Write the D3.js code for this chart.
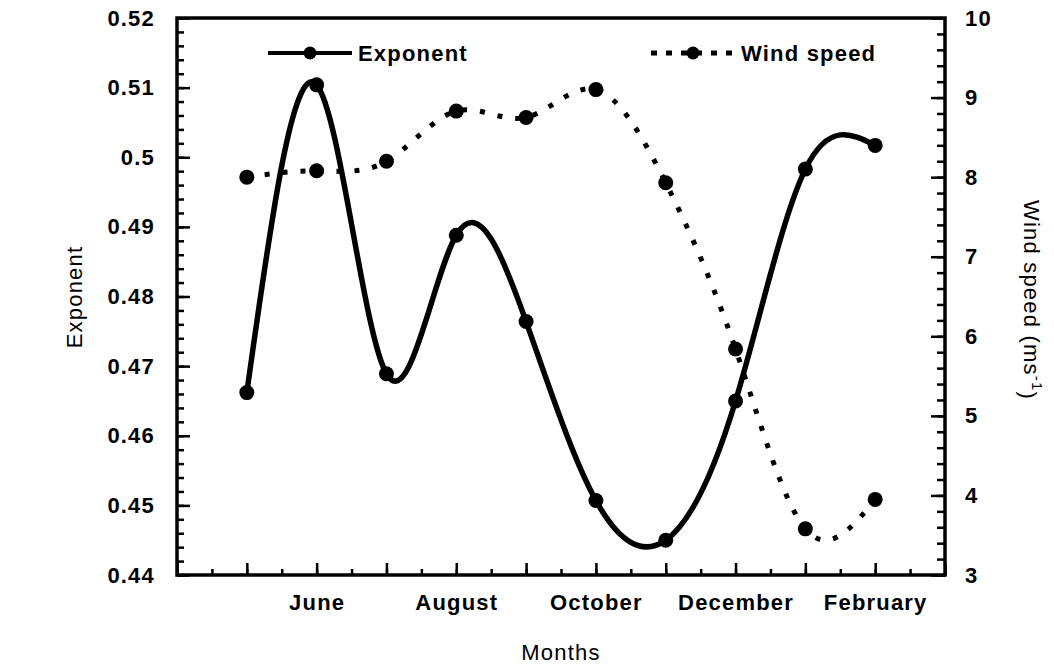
<!DOCTYPE html>
<html>
<head>
<meta charset="utf-8">
<script src="https://cdn.jsdelivr.net/npm/d3@7"></script>
<style>
  body { margin: 0; background: #fff; }
  text { font-family: "Liberation Sans", Arial, sans-serif; fill: #000; }
  .tick-label { font-size: 22px; font-weight: bold; letter-spacing: 1.2px; }
  .title { font-size: 22px; letter-spacing: 1.2px; }
</style>
</head>
<body>
<div id="chart"></div>
<script>
// months shown on the axis (index 0 = April ... 11 = March)
const axisMonths = ["April", "May", "June", "July", "August", "September",
  "October", "November", "December", "January", "February", "March"];
const labelledMonths = ["June", "August", "October", "December", "February"];

// measured months: May .. February
const dataMonths = ["May", "June", "July", "August", "September",
  "October", "November", "December", "January", "February"];
const exponent = [0.4662, 0.5104, 0.4689, 0.4888, 0.4764, 0.4507, 0.4450, 0.4650, 0.4983, 0.5017];
const windSpeed = [8.00, 8.08, 8.20, 8.83, 8.75, 9.10, 7.93, 5.84, 3.58, 3.95];

const expTicks = [0.44, 0.45, 0.46, 0.47, 0.48, 0.49, 0.5, 0.51, 0.52];
const windTicks = [3, 4, 5, 6, 7, 8, 9, 10];

const width = 1054, height = 668;
const plotL = 177, plotR = 945, plotT = 18, plotB = 575;

const svg = d3.select("#chart").append("svg")
  .attr("width", width)
  .attr("height", height);

const x = d3.scaleLinear().domain([0, axisMonths.length - 1]).range([plotL, plotR]);
const yL = d3.scaleLinear().domain([0.44, 0.52]).range([plotB, plotT]);
const yR = d3.scaleLinear().domain([3, 10]).range([plotB, plotT]);

const idx = m => axisMonths.indexOf(m);

// minor ticks
svg.append("g").attr("transform", "translate(" + plotL + ",0)")
  .call(d3.axisLeft(yL).tickValues(d3.range(0.44, 0.5201, 0.002)).tickSize(-7).tickFormat(""));
svg.append("g").attr("transform", "translate(" + plotR + ",0)")
  .call(d3.axisRight(yR).tickValues(d3.range(3, 10.01, 0.2)).tickSize(-8).tickFormat(""));
svg.append("g").attr("transform", "translate(0," + plotB + ")")
  .call(d3.axisBottom(x).tickValues(d3.range(0, 11.01, 0.5)).tickSize(-6).tickFormat(""));

// major ticks + labels
const gL = svg.append("g").attr("transform", "translate(" + plotL + ",0)")
  .call(d3.axisLeft(yL).tickValues(expTicks).tickSize(-13).tickPadding(22)
    .tickFormat(d => String(+d.toFixed(2))));
const gR = svg.append("g").attr("transform", "translate(" + plotR + ",0)")
  .call(d3.axisRight(yR).tickValues(windTicks).tickSize(-14).tickPadding(20)
    .tickFormat(d3.format("d")));
const gB = svg.append("g").attr("transform", "translate(0," + plotB + ")")
  .call(d3.axisBottom(x).tickValues(d3.range(0, 12)).tickSize(-12).tickPadding(19)
    .tickFormat(i => labelledMonths.includes(axisMonths[i]) ? axisMonths[i] : ""));

svg.selectAll(".domain").remove();
svg.selectAll(".tick line").attr("stroke", "#000").attr("stroke-width", 2.5);
svg.selectAll(".tick text").attr("class", "tick-label").attr("fill", "#000");

// frame
svg.append("rect")
  .attr("x", plotL).attr("y", plotT)
  .attr("width", plotR - plotL).attr("height", plotB - plotT)
  .attr("fill", "none").attr("stroke", "#000").attr("stroke-width", 3.5);

// lines
const lineExp = d3.line()
  .x((d, i) => x(idx(dataMonths[i])))
  .y(d => yL(d))
  .curve(d3.curveNatural);
const lineWind = d3.line()
  .x((d, i) => x(idx(dataMonths[i])))
  .y(d => yR(d))
  .curve(d3.curveNatural);

svg.append("path").datum(windSpeed)
  .attr("d", lineWind)
  .attr("fill", "none").attr("stroke", "#000")
  .attr("stroke-width", 5).attr("stroke-dasharray", "5,13");
svg.append("path").datum(exponent)
  .attr("d", lineExp)
  .attr("fill", "none").attr("stroke", "#000").attr("stroke-width", 5.5);

svg.append("g").selectAll("circle").data(windSpeed).enter().append("circle")
  .attr("cx", (d, i) => x(idx(dataMonths[i])))
  .attr("cy", d => yR(d))
  .attr("r", 7.5).attr("fill", "#000");
svg.append("g").selectAll("circle").data(exponent).enter().append("circle")
  .attr("cx", (d, i) => x(idx(dataMonths[i])))
  .attr("cy", d => yL(d))
  .attr("r", 7.5).attr("fill", "#000");

// legend
const legend = [
  { name: "Exponent", x0: 268, dash: null },
  { name: "Wind speed", x0: 651, dash: "6,9" }
];
const lg = svg.append("g").selectAll("g").data(legend).enter().append("g")
  .attr("transform", d => "translate(" + d.x0 + ",53)");
lg.append("line")
  .attr("x1", 0).attr("x2", 84).attr("y1", 0).attr("y2", 0)
  .attr("stroke", "#000").attr("stroke-width", d => d.dash ? 5 : 4)
  .attr("stroke-dasharray", d => d.dash);
lg.append("circle").attr("cx", 42).attr("cy", 0).attr("r", 6.5).attr("fill", "#000");
lg.append("text").attr("class", "tick-label")
  .attr("x", 90).attr("y", 0).attr("dy", "0.35em")
  .text(d => d.name);

// axis titles
svg.append("text").attr("class", "title").attr("fill", "#000")
  .attr("transform", "translate(82,297) rotate(-90)")
  .attr("text-anchor", "middle")
  .text("Exponent");
svg.append("text").attr("class", "title").attr("fill", "#000")
  .attr("x", 561).attr("y", 660)
  .attr("text-anchor", "middle")
  .text("Months");
const wt = svg.append("text").attr("class", "title").attr("fill", "#000")
  .attr("transform", "translate(1024,300) rotate(90)")
  .attr("text-anchor", "middle");
wt.append("tspan").text("Wind speed (ms");
wt.append("tspan").attr("dy", "-0.5em").attr("font-size", "15px").text("-1");
wt.append("tspan").attr("dy", "0.5em").text(")");
</script>
</body>
</html>
